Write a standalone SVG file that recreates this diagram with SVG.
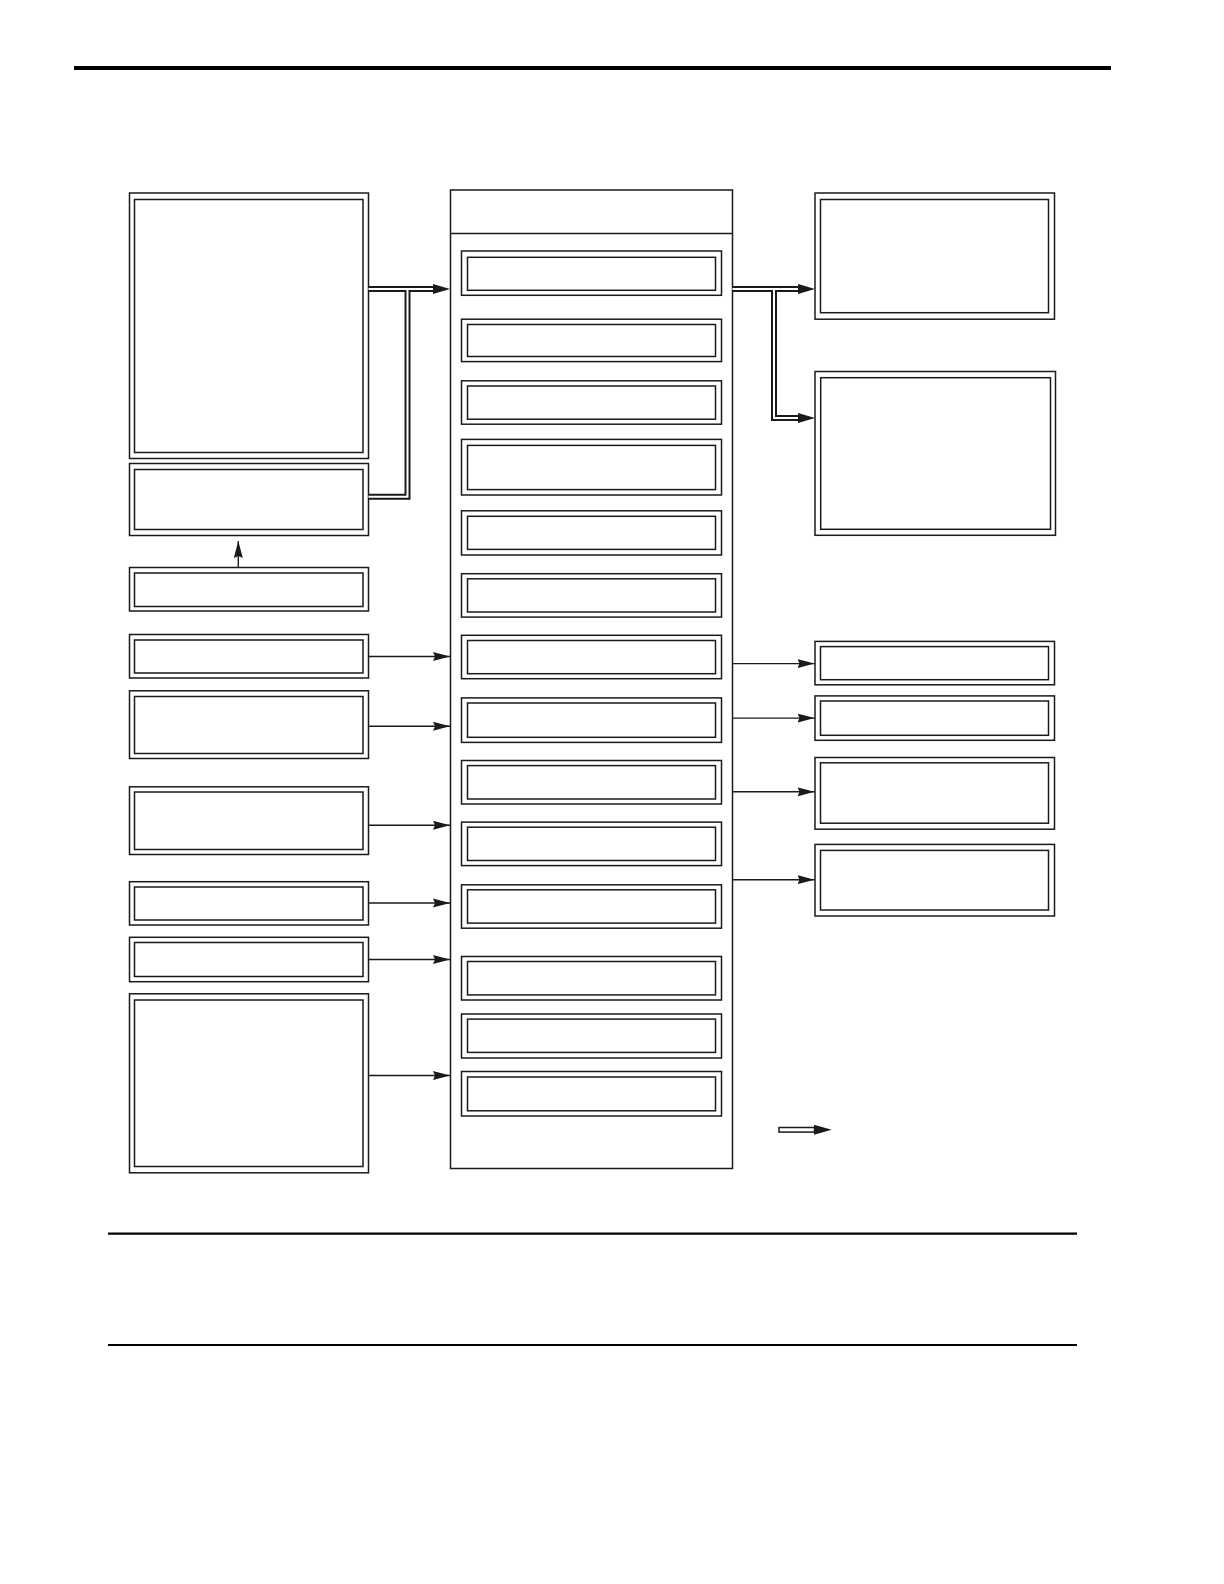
<svg xmlns="http://www.w3.org/2000/svg" width="1224" height="1584" viewBox="0 0 1224 1584">
<style>
.b{fill:none;stroke:#1a1a1a;stroke-width:1.5}
.w{fill:#fff;stroke:#1a1a1a;stroke-width:1.5}
.ln{fill:none;stroke:#1a1a1a;stroke-width:1.4}
.dk{fill:none;stroke:#1a1a1a;stroke-width:6;stroke-linejoin:miter}
.dw{fill:none;stroke:#fff;stroke-width:2;stroke-linejoin:miter}
.rule{stroke:#000}
</style>
<defs>
<marker id="ah" markerUnits="userSpaceOnUse" markerWidth="18" markerHeight="10" refX="17" refY="5" orient="auto" viewBox="0 0 18 10">
<path d="M0,0.5 L17,5 L0,9.5 L2,5 z" fill="#1a1a1a"/>
</marker>
<marker id="ahd" markerUnits="userSpaceOnUse" markerWidth="18" markerHeight="11" refX="0" refY="5.5" orient="auto" viewBox="0 0 18 11">
<path d="M0,0.5 L17,5.5 L0,10.5 z" fill="#1a1a1a"/>
</marker>
</defs>
<rect width="1224" height="1584" fill="#fff"/>
<line class="rule" x1="74" y1="68" x2="1111" y2="68" stroke-width="4"/>
<line class="rule" x1="108" y1="1233.7" x2="1077" y2="1233.7" stroke-width="2.2"/>
<line class="rule" x1="108" y1="1345" x2="1077" y2="1345" stroke-width="2.2"/>

<g id="left-nodes">
<g id="L1"><rect class="b" x="129.5" y="193" width="239" height="265.5"/><rect class="b" x="134.5" y="199.5" width="228.5" height="253"/></g>
<g id="L2"><rect class="b" x="129.5" y="463.5" width="239" height="72"/><rect class="b" x="134.5" y="469.5" width="228.5" height="60"/></g>
<g id="L3"><rect class="b" x="129.5" y="567.5" width="239" height="43.5"/><rect class="b" x="134.5" y="573" width="228.5" height="33.5"/></g>
<g id="L4"><rect class="b" x="129.5" y="634.5" width="239" height="43.5"/><rect class="b" x="134.5" y="640" width="228.5" height="33"/></g>
<g id="L5"><rect class="b" x="129.5" y="690.8" width="239" height="67.7"/><rect class="b" x="134.5" y="696.5" width="228.5" height="57"/></g>
<g id="L6"><rect class="b" x="129.5" y="786.8" width="239" height="67.7"/><rect class="b" x="134.5" y="792" width="228.5" height="57.5"/></g>
<g id="L7"><rect class="b" x="129.5" y="881.7" width="239" height="43.3"/><rect class="b" x="134.5" y="887" width="228.5" height="33"/></g>
<g id="L8"><rect class="b" x="129.5" y="937.3" width="239" height="44.4"/><rect class="b" x="134.5" y="942.5" width="228.5" height="34"/></g>
<g id="L9"><rect class="b" x="129.5" y="993.8" width="239" height="179"/><rect class="b" x="134.5" y="1000" width="228.5" height="166.5"/></g>
</g>

<g id="center">
<g id="C0"><rect class="b" x="450.5" y="190" width="282" height="978.5"/><line class="ln" x1="450.5" y1="233.5" x2="732.5" y2="233.5"/></g>
<g id="C1"><rect class="b" x="461.5" y="251" width="260" height="44.3"/><rect class="b" x="467.5" y="257.3" width="248" height="33"/></g>
<g id="C2"><rect class="b" x="461.5" y="319.2" width="260" height="42.4"/><rect class="b" x="467.5" y="324.5" width="248" height="32"/></g>
<g id="C3"><rect class="b" x="461.5" y="380.8" width="260" height="43.4"/><rect class="b" x="467.5" y="386" width="248" height="33.2"/></g>
<g id="C4"><rect class="b" x="461.5" y="439.4" width="260" height="55.6"/><rect class="b" x="467.5" y="445.4" width="248" height="44.2"/></g>
<g id="C5"><rect class="b" x="461.5" y="510.8" width="260" height="44.2"/><rect class="b" x="467.5" y="516.3" width="248" height="33.1"/></g>
<g id="C6"><rect class="b" x="461.5" y="573.7" width="260" height="43.4"/><rect class="b" x="467.5" y="578.8" width="248" height="33.2"/></g>
<g id="C7"><rect class="b" x="461.5" y="635.3" width="260" height="43.4"/><rect class="b" x="467.5" y="640.5" width="248" height="33.2"/></g>
<g id="C8"><rect class="b" x="461.5" y="697.9" width="260" height="44.5"/><rect class="b" x="467.5" y="703" width="248" height="34.3"/></g>
<g id="C9"><rect class="b" x="461.5" y="760.5" width="260" height="43.5"/><rect class="b" x="467.5" y="765.6" width="248" height="33.4"/></g>
<g id="C10"><rect class="b" x="461.5" y="822.1" width="260" height="43.5"/><rect class="b" x="467.5" y="827.2" width="248" height="33.3"/></g>
<g id="C11"><rect class="b" x="461.5" y="884.8" width="260" height="43.4"/><rect class="b" x="467.5" y="889.8" width="248" height="33.3"/></g>
<g id="C12"><rect class="b" x="461.5" y="956.5" width="260" height="43.5"/><rect class="b" x="467.5" y="961.5" width="248" height="33.4"/></g>
<g id="C13"><rect class="b" x="461.5" y="1014" width="260" height="44"/><rect class="b" x="467.5" y="1019.1" width="248" height="33.3"/></g>
<g id="C14"><rect class="b" x="461.5" y="1071.5" width="260" height="44.5"/><rect class="b" x="467.5" y="1077" width="248" height="33.8"/></g>
</g>

<g id="right-nodes">
<g id="R1"><rect class="b" x="815" y="193" width="239.5" height="126.2"/><rect class="b" x="820.5" y="199.5" width="228" height="113.2"/></g>
<g id="R2"><rect class="b" x="815" y="371.5" width="240.5" height="163.8"/><rect class="b" x="820.7" y="377.7" width="229.8" height="151.6"/></g>
<g id="R3"><rect class="b" x="815" y="641.4" width="239.5" height="43.4"/><rect class="b" x="820.5" y="646.6" width="228" height="33.1"/></g>
<g id="R4"><rect class="b" x="815" y="695.9" width="239.5" height="44.4"/><rect class="b" x="820.5" y="701" width="228" height="34.3"/></g>
<g id="R5"><rect class="b" x="815" y="757.5" width="239.5" height="71.7"/><rect class="b" x="820.5" y="762.8" width="228" height="60.4"/></g>
<g id="R6"><rect class="b" x="815" y="844.4" width="239.5" height="71.6"/><rect class="b" x="820.5" y="850.4" width="228" height="59.6"/></g>
</g>

<g id="connectors">
<!-- double lines, left -->
<path class="dk" d="M368.5,289 H433" marker-end="url(#ahd)"/>
<path class="dk" d="M368.5,496.7 H407.5 V289"/>
<path class="dk" d="M732.5,289 H798" marker-end="url(#ahd)"/>
<path class="dk" d="M774,289 V418 H798" marker-end="url(#ahd)"/>
<path class="dw" d="M368.5,289 H433"/>
<path class="dw" d="M368.5,496.7 H407.5 V289"/>
<path class="dw" d="M732.5,289 H798"/>
<path class="dw" d="M774,289 V418 H798"/>
<!-- up arrow -->
<line class="ln" x1="238.3" y1="567.5" x2="238.3" y2="541" marker-end="url(#ah)"/>
<!-- left single arrows -->
<line class="ln" x1="368.5" y1="656.5" x2="450" y2="656.5" marker-end="url(#ah)"/>
<line class="ln" x1="368.5" y1="726.2" x2="450" y2="726.2" marker-end="url(#ah)"/>
<line class="ln" x1="368.5" y1="825.2" x2="450" y2="825.2" marker-end="url(#ah)"/>
<line class="ln" x1="368.5" y1="903" x2="450" y2="903" marker-end="url(#ah)"/>
<line class="ln" x1="368.5" y1="959.5" x2="450" y2="959.5" marker-end="url(#ah)"/>
<line class="ln" x1="368.5" y1="1075.5" x2="450" y2="1075.5" marker-end="url(#ah)"/>
<!-- right single arrows -->
<line class="ln" x1="732.5" y1="663.6" x2="814.5" y2="663.6" marker-end="url(#ah)"/>
<line class="ln" x1="732.5" y1="718.1" x2="814.5" y2="718.1" marker-end="url(#ah)"/>
<line class="ln" x1="732.5" y1="791.8" x2="814.5" y2="791.8" marker-end="url(#ah)"/>
<line class="ln" x1="732.5" y1="879.7" x2="814.5" y2="879.7" marker-end="url(#ah)"/>
</g>

<g id="legend">
<rect class="w" x="779" y="1127.5" width="35.5" height="4.6"/>
<path d="M814,1124.8 L831.7,1129.8 L814,1134.8 z" fill="#1a1a1a"/>
</g>
</svg>
